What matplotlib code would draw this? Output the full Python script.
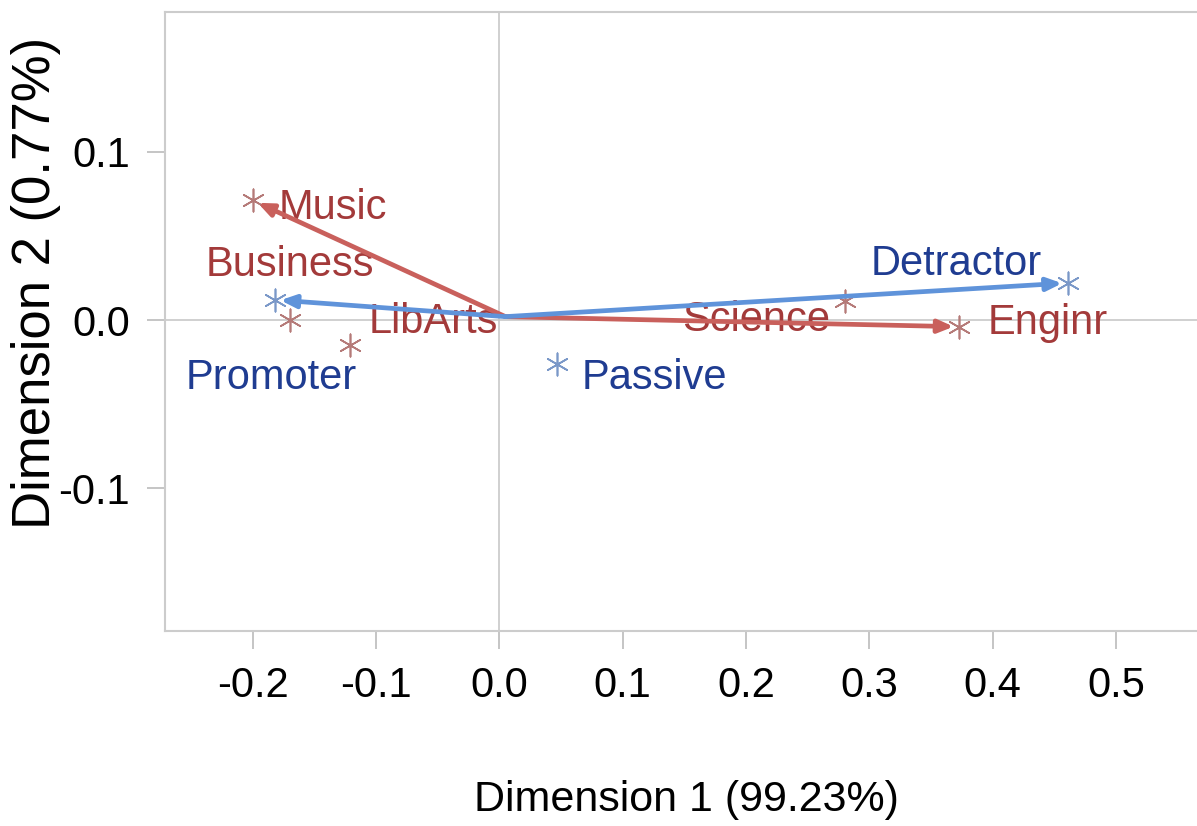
import matplotlib
matplotlib.use("Agg")
import matplotlib.pyplot as plt

# correspondence analysis coordinates
col_names = ["Music", "Business", "LibArts", "Science", "Enginr"]
col_x = [-0.200, -0.170, -0.121, 0.280, 0.373]
col_y = [0.071, 0.000, -0.015, 0.011, -0.004]

row_names = ["Promoter", "Passive", "Detractor"]
row_x = [-0.182, 0.047, 0.461]
row_y = [0.012, -0.026, 0.022]

# where the labels sit (data coords, left edge / vertical centre)
col_lab_x = [-0.179, -0.238, -0.106, 0.148, 0.396]
col_lab_y = [0.0665, 0.0327, -0.001, 0.000, -0.002]
row_lab_x = [-0.254, 0.067, 0.301]
row_lab_y = [-0.0345, -0.0345, 0.0333]

# arrows drawn from the centre to these points
arrow_start = (0.005, 0.002)
red_arrows = ["Music", "Enginr"]
blue_arrows = ["Promoter", "Detractor"]

RED_TXT = "#a33a3a"
BLUE_TXT = "#1f3c91"
RED_MK = "#b57a78"
BLUE_MK = "#7a98c8"
RED_ARR = "#c9605c"
BLUE_ARR = "#5f93da"

plt.rcParams["font.family"] = ["Liberation Sans", "DejaVu Sans"]

fig = plt.figure(figsize=(11.97, 8.26), dpi=100)
ax = fig.add_axes([0.1378, 0.236, 0.8622, 0.7495])
ax.set_xlim(-0.2711, 0.5658)
ax.set_ylim(-0.1848, 0.183)

ax.axhline(0, color="#c8c8c8", lw=1.2, zorder=1)
ax.axvline(0, color="#c8c8c8", lw=1.2, zorder=1)

ax.scatter(col_x, col_y, marker=(6, 2, 0), s=260, color=RED_MK, lw=1.2, zorder=3)
ax.scatter(row_x, row_y, marker=(6, 2, 0), s=260, color=BLUE_MK, lw=1.2, zorder=3)

for n, x, y in zip(col_names, col_lab_x, col_lab_y):
    ax.text(x, y, n, color=RED_TXT, fontsize=30, ha="left", va="center", zorder=4)
for n, x, y in zip(row_names, row_lab_x, row_lab_y):
    ax.text(x, y, n, color=BLUE_TXT, fontsize=30, ha="left", va="center", zorder=4)

for n in red_arrows:
    i = col_names.index(n)
    ax.annotate("", xy=(col_x[i], col_y[i]), xytext=arrow_start,
                arrowprops=dict(arrowstyle="-|>,head_length=0.9,head_width=0.38",
                                color=RED_ARR, lw=3.4, shrinkA=0, shrinkB=4), zorder=5)
for n in blue_arrows:
    i = row_names.index(n)
    ax.annotate("", xy=(row_x[i], row_y[i]), xytext=arrow_start,
                arrowprops=dict(arrowstyle="-|>,head_length=0.9,head_width=0.38",
                                color=BLUE_ARR, lw=3.4, shrinkA=0, shrinkB=4), zorder=5)

ax.set_xticks([-0.2, -0.1, 0.0, 0.1, 0.2, 0.3, 0.4, 0.5])
ax.set_xticklabels(["-0.2", "-0.1", "0.0", "0.1", "0.2", "0.3", "0.4", "0.5"])
ax.set_yticks([-0.1, 0.0, 0.1])
ax.set_yticklabels(["-0.1", "0.0", "0.1"])
ax.tick_params(labelsize=30, length=13, width=1.2, color="#bbbbbb", pad=12)

for s in ["left", "bottom", "top"]:
    ax.spines[s].set_color("#cccccc")
    ax.spines[s].set_linewidth(1.5)
ax.spines["right"].set_visible(False)

ax.set_xlabel("Dimension 1 (99.23%)", fontsize=31)
ax.set_ylabel("Dimension 2 (0.77%)", fontsize=38)
ax.xaxis.set_label_coords(0.505, -0.24)
ax.yaxis.set_label_coords(-0.101, 0.562)

fig.savefig("out.png", dpi=100)
